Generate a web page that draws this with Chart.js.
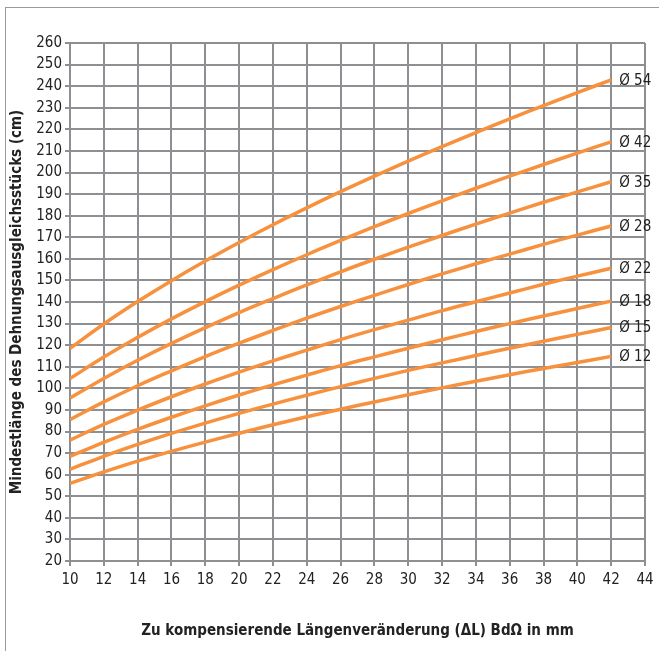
<!DOCTYPE html>
<html>
<head>
<meta charset="utf-8">
<script src="https://cdn.jsdelivr.net/npm/chart.js@4"></script>
<style>
  html, body { margin: 0; padding: 0; background: #fff; }
  #wrap { position: relative; width: 659px; height: 651px; overflow: hidden; }
  #frame { position: absolute; left: 5px; top: 7px; width: 700px; height: 700px;
           border-left: 1px solid #9a9a9a; border-top: 1px solid #9a9a9a; }
  canvas { position: absolute; left: 0; top: 0; }
</style>
</head>
<body>
<div id="wrap">
  <div id="frame"></div>
  <canvas id="chartDehnung" width="659" height="651"></canvas>
</div>
<script>
// Laengenveraenderung (mm)
const deltaL = [10, 12, 14, 16, 18, 20, 22, 24, 26, 28, 30, 32, 34, 36, 38, 40, 42];

// Mindestlaenge je Rohrdurchmesser (cm)
const d54 = [118.5, 129.8, 140.2, 149.9, 159.0, 167.6, 175.8, 183.6, 191.1, 198.3, 205.3, 212.0, 218.5, 224.8, 231.0, 237.0, 242.9];
const d42 = [104.5, 114.5, 123.6, 132.2, 140.2, 147.8, 155.0, 161.9, 168.5, 174.9, 181.0, 186.9, 192.7, 198.3, 203.7, 209.0, 214.2];
const d35 = [95.5, 104.6, 113.0, 120.8, 128.1, 135.1, 141.6, 147.9, 154.0, 159.8, 165.4, 170.8, 176.1, 181.2, 186.2, 191.0, 195.7];
const d28 = [85.5, 93.7, 101.2, 108.1, 114.7, 120.9, 126.8, 132.5, 137.9, 143.1, 148.1, 153.0, 157.7, 162.2, 166.7, 171.0, 175.2];
const d22 = [76.0, 83.3, 89.9, 96.1, 102.0, 107.5, 112.7, 117.7, 122.6, 127.2, 131.6, 136.0, 140.1, 144.2, 148.2, 152.0, 155.6];
const d18 = [68.5, 75.0, 81.0, 86.6, 91.9, 96.9, 101.6, 106.1, 110.5, 114.6, 118.6, 122.5, 126.3, 130.0, 133.5, 137.0, 140.4];
const d15 = [62.5, 68.5, 74.0, 79.1, 83.9, 88.4, 92.7, 96.8, 100.8, 104.6, 108.3, 111.8, 115.2, 118.6, 121.8, 125.0, 128.2];
const d12 = [56.0, 61.3, 66.3, 70.8, 75.1, 79.2, 83.1, 86.8, 90.3, 93.7, 97.0, 100.2, 103.3, 106.3, 109.2, 112.0, 114.8];

const serien = [d54, d42, d35, d28, d22, d18, d15, d12];
const serienLabels = ["Ø 54", "Ø 42", "Ø 35", "Ø 28", "Ø 22", "Ø 18", "Ø 15", "Ø 12"];

const orange = "rgb(247, 145, 61)";
const gridFarbe = "#8d8f92";
const schrift = "'DejaVu Sans Condensed', 'DejaVu Sans', sans-serif";

// Beschriftung am Ende jeder Kurve
const endLabels = {
  id: "endLabels",
  afterDatasetsDraw(chart) {
    const ctx = chart.ctx;
    ctx.save();
    ctx.font = "15px " + schrift;
    ctx.fillStyle = "#222";
    ctx.textBaseline = "middle";
    ctx.textAlign = "left";
    chart.data.datasets.forEach(function (ds, i) {
      const meta = chart.getDatasetMeta(i);
      const last = meta.data[meta.data.length - 1];
      ctx.fillText(ds.label, last.x + 8, last.y + 1);
    });
    ctx.restore();
  }
};

const datasets = serien.map(function (werte, i) {
  return {
    label: serienLabels[i],
    data: werte.map(function (v, j) { return { x: deltaL[j], y: v }; }),
    borderColor: orange,
    borderWidth: 3.5,
    pointRadius: 0,
    fill: false,
    tension: 0.4
  };
});

const chart = new Chart(document.getElementById("chartDehnung"), {
  type: "line",
  data: { datasets: datasets },
  options: {
    responsive: false,
    animation: false,
    layout: { padding: { left: 8, right: 14, top: 43, bottom: 0 } },
    plugins: { legend: { display: false }, tooltip: { enabled: false } },
    scales: {
      x: {
        type: "linear",
        min: 10,
        max: 44,
        afterFit: function (scale) { scale.height = 90; },
        ticks: { stepSize: 2, color: "#222", padding: 5, font: { family: schrift, size: 15 } },
        grid: { color: gridFarbe, lineWidth: 2, tickLength: 5 },
        border: { color: gridFarbe, width: 2 },
        title: {
          display: true,
          text: "Zu kompensierende Längenveränderung (ΔL) BdΩ in mm",
          color: "#222",
          font: { family: schrift, size: 15, weight: "bold" },
          padding: { top: 0, bottom: 11 }
        }
      },
      y: {
        min: 20,
        max: 260,
        afterFit: function (scale) { scale.width = 62; },
        ticks: { stepSize: 10, color: "#222", padding: 3, font: { family: schrift, size: 15 } },
        grid: { color: gridFarbe, lineWidth: 2, tickLength: 5 },
        border: { color: gridFarbe, width: 2 },
        title: {
          display: true,
          text: "Mindestlänge des Dehnungsausgleichsstücks (cm)",
          color: "#222",
          font: { family: schrift, size: 15, weight: "bold" },
          padding: { top: 0, bottom: 0 }
        }
      }
    }
  },
  plugins: [endLabels]
});
</script>
</body>
</html>
